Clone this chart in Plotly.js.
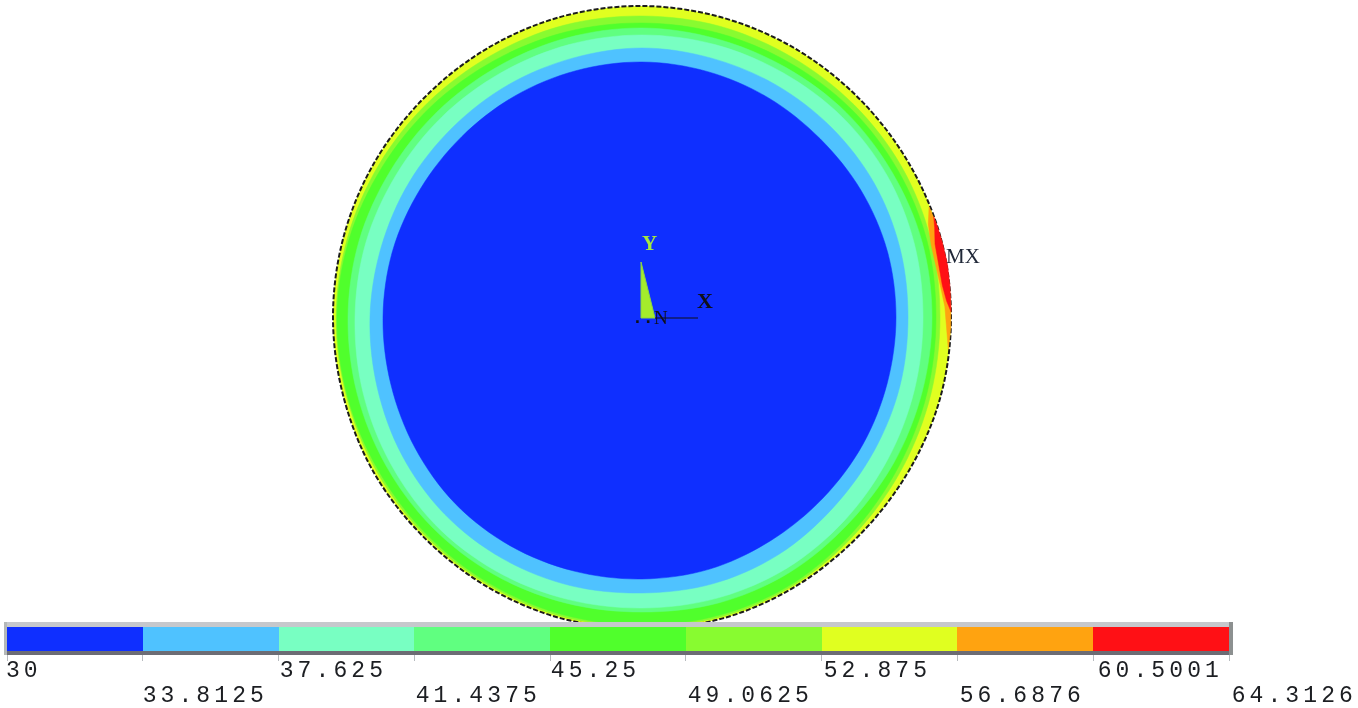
<!DOCTYPE html>
<html>
<head>
<meta charset="utf-8">
<script src="https://cdn.plot.ly/plotly-3.0.1.min.js"></script>
<style>
html,body{margin:0;padding:0;background:#fff;overflow:hidden}
#chart{width:1358px;height:708px;filter:blur(0.6px)}
.annotation.spaced text{letter-spacing:4.1px}
</style>
</head>
<body>
<div id="chart"></div>
<script>
// Contour levels and colours of the legend bar
const levels = [30, 33.8125, 37.625, 41.4375, 45.25, 49.0625, 52.875, 56.6876, 60.5001, 64.3126];
const levelLabels = ["30","33.8125","37.625","41.4375","45.25","49.0625","52.875","56.6876","60.5001","64.3126"];
const bandColors = ["#0f2fff","#4fc2ff","#78ffc2","#60ff80","#50ff2c","#88fb30","#e0ff20","#ffa310","#ff1015"];

// Centre of the section
const centerX = [642];
const centerY = [317];

// Polar angles (degrees) of the radius readings
const angles = [0,15,30,45,60,75,90,105,120,135,150,165,180,195,210,225,240,255,270,285,300,315,330,345];

// Radius of the outer edge of each contour band, read around the section
const rimR    = [309,309,308,308,309,310,311,311,310,309,309,309,309,309,310,310,311,312,311,312,310,308,308,309];
const yellowGreenR = [298,299,300,300,300,301,301,302,302,303,304,305,306,306,307,308,309,310,309,310,308,304,301,299];
const greenR  = [294,295,295,295,294,294,294,295,296,298,300,303,305,305,305,306,307,308,308,308,306,301,297,295];
const ltGreenR= [290,290,289,289,288,288,289,289,289,290,291,293,294,295,296,297,297,296,295,296,295,292,291,290];
const tealR   = [281,282,283,283,282,282,282,282,282,283,284,286,287,289,291,293,293,292,291,291,290,287,284,282];
const ltBlueR = [266,267,268,268,268,268,269,268,268,268,269,270,272,274,277,279,279,278,276,276,274,270,268,267];
const blueR   = [254,254,253,252,253,254,255,255,255,255,256,258,259,260,262,264,264,263,262,261,258,256,255,254];

// Hot crescent on the right-hand edge
const orangeAngles = [-6,-2,2,6,10,14,18,21,18,14,10,6,2,-2];
const orangeR      = [308,305,303,300,298,298,301,307.5,308.5,309,309,309,309,309];
const redAngles    = [1,3,6,10,14,17,19,17,14,10,6,3];
const redR         = [309,305,302,301,302,306,308.5,309,309.5,310,309.5,309];

// Triad
const triadX = [641,641,655,641];
const triadY = [262,318,318,262];
const axisLineX = [655,698];
const axisLineY = [318,318];

function ring(rs, angs, color, rim, linear) {
  const n = rs.length;
  const xs = [], ys = [];
  for (let i = 0; i <= n; i++) {
    const k = i % n;
    const t = angs[k] * Math.PI / 180;
    xs.push(centerX[0] + rs[k] * Math.cos(t));
    ys.push(centerY[0] - rs[k] * Math.sin(t));
  }
  const shape = linear ? {shape:'linear'} : {shape:'spline', smoothing:1};
  return {
    type:'scatter', mode:'lines', x:xs, y:ys, fill:'toself', fillcolor:color,
    line: rim ? Object.assign({color:'#1c1c1c', width:2, dash:'5px,2px'}, shape)
              : Object.assign({color:color, width:0.5}, shape),
    hoverinfo:'skip', showlegend:false, xaxis:'x', yaxis:'y'
  };
}

const traces = [
  ring(rimR, angles, bandColors[6], true),
  ring(yellowGreenR, angles, bandColors[5]),
  ring(greenR, angles, bandColors[4]),
  ring(ltGreenR, angles, bandColors[3]),
  ring(tealR, angles, bandColors[2]),
  ring(ltBlueR, angles, bandColors[1]),
  ring(blueR, angles, bandColors[0]),
  ring(orangeR, orangeAngles, bandColors[7], false, true),
  ring(redR, redAngles, bandColors[8], false, true),
  {type:'scatter', mode:'lines', x:triadX, y:triadY, fill:'toself', fillcolor:'#a4ec2c',
   line:{color:'#8cd640', width:1}, hoverinfo:'skip', showlegend:false, xaxis:'x', yaxis:'y'},
  {type:'scatter', mode:'lines', x:axisLineX, y:axisLineY,
   line:{color:'#101018', width:1.2}, hoverinfo:'skip', showlegend:false, xaxis:'x', yaxis:'y'},
  {type:'bar', orientation:'h', y:bandColors.map(()=>0),
   base:levels.slice(0,-1), x:levels.slice(1).map((v,i)=>v-levels[i]),
   marker:{color:bandColors, line:{width:0}}, width:1,
   hoverinfo:'skip', showlegend:false, xaxis:'x2', yaxis:'y2'}
];

const W = 1358, H = 708;
const labelShift = [1.4,12.4,11.2,13.4,9,14.4,12.2,14.4,16.4,15.4];
const labelAnn = levelLabels.map((t,i)=>({
  xref:'x2', yref:'y', x:levels[i], y:(i%2===0)?671:695.5, text:t, showarrow:false,
  xanchor:'left', yanchor:'middle', xshift: labelShift[i],
  font:{family:'"Liberation Mono", monospace', size:23, color:'#1c1e22'}
}));
const textAnn = (txt,x,y,size,color,bold,fam)=>({
  xref:'x', yref:'y', x:x, y:y, text: bold?('<b>'+txt+'</b>'):txt, showarrow:false,
  xanchor:'center', yanchor:'middle',
  font:{family:fam, size:size, color:color}
});
const SERIF = '"Liberation Serif", serif', MONO = '"Liberation Mono", monospace';

const strip = (x0,y0,x1,y1,color)=>({type:'rect', xref:'x', yref:'y', x0,y0,x1,y1,
  fillcolor:color, line:{width:0}, layer:'above'});

const layout = {
  width:W, height:H, margin:{l:0,r:0,t:0,b:0,pad:0},
  paper_bgcolor:'#ffffff', plot_bgcolor:'rgba(0,0,0,0)', showlegend:false, bargap:0,
  xaxis:{range:[0,W], visible:false, fixedrange:true, domain:[0,1], anchor:'y'},
  yaxis:{range:[H,0], visible:false, fixedrange:true, domain:[0,1], anchor:'x'},
  xaxis2:{range:[30,64.3126], domain:[7/W,1229/W], anchor:'y2', fixedrange:true,
    showgrid:false, zeroline:false, showline:false, showticklabels:false,
    tickmode:'array', tickvals:levels, ticks:'outside', ticklen:9, tickcolor:'#b8bcc0', tickwidth:1},
  yaxis2:{range:[-0.5,0.5], domain:[1-651/H,1-627/H], anchor:'x2', visible:false, fixedrange:true},
  shapes:[
    strip(4,622,1233,627,'#c6c8cc'),
    strip(4,651,1233,655,'#6c6c74'),
    strip(4,622,7,655,'#b4b8b8'),
    strip(1229,622,1233,655,'#8c9090')
  ],
  annotations: labelAnn.concat([
    textAnn('Y',649,243,21,'#a4e840',true,SERIF),
    textAnn('X',705,300,22,'#101018',true,SERIF),
    textAnn('MX',963,256,21,'#202838',false,SERIF),
    textAnn('N',661,317,19,'#101018',false,SERIF),
    textAnn('..',643,318,18,'#101018',true,MONO)
  ])
};

Plotly.newPlot('chart', traces, layout, {displayModeBar:false, staticPlot:true}).then(()=>{
  document.querySelectorAll('.annotation').forEach((a,i)=>{ if(i<levelLabels.length) a.classList.add('spaced'); });
});
</script>
</body>
</html>
